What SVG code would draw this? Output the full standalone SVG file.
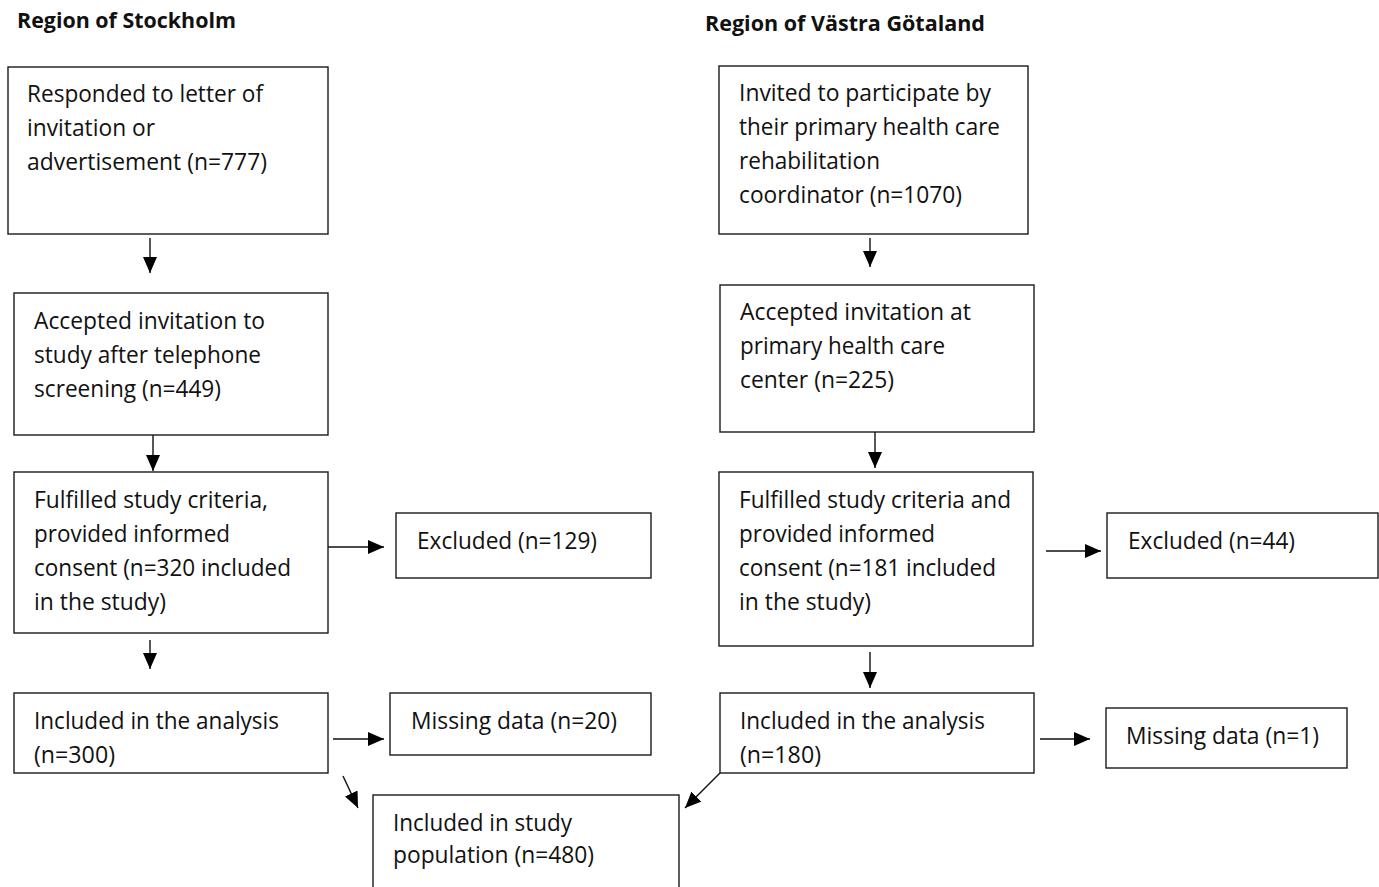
<svg xmlns="http://www.w3.org/2000/svg" width="1379" height="887" viewBox="0 0 1379 887">
<style>
.box{fill:#fff;stroke:#1a1a1a;stroke-width:1.4}
.t{font-family:"Open Sans","Liberation Sans",sans-serif;font-size:23px;fill:#111}
.h{font-family:"Open Sans","Liberation Sans",sans-serif;font-size:21px;font-weight:bold;fill:#111}
.c{stroke:#111;stroke-width:1.4;fill:none;marker-end:url(#ah)}
</style>
<defs>
<marker id="ah" markerUnits="userSpaceOnUse" viewBox="0 0 16 14" refX="16" refY="7" markerWidth="16" markerHeight="14" orient="auto">
<path d="M0,0 L16,7 L0,14 Z" fill="#000"/>
</marker>
</defs>
<rect width="1379" height="887" fill="#fff"/>
<text class="h" x="17" y="28" textLength="219" lengthAdjust="spacingAndGlyphs">Region of Stockholm</text>
<text class="h" x="705" y="31" textLength="280" lengthAdjust="spacingAndGlyphs">Region of Västra Götaland</text>

<g id="connectors">
<line class="c" x1="150" y1="238" x2="150" y2="273"/>
<line class="c" x1="153" y1="435" x2="153" y2="471"/>
<line class="c" x1="328" y1="547" x2="384" y2="547"/>
<line class="c" x1="150" y1="640" x2="150" y2="669"/>
<line class="c" x1="333" y1="739" x2="384" y2="739"/>
<line class="c" x1="343" y1="776" x2="358" y2="808"/>
<line class="c" x1="720" y1="773" x2="685" y2="808"/>
<line class="c" x1="870" y1="238" x2="870" y2="267"/>
<line class="c" x1="875" y1="432" x2="875" y2="468"/>
<line class="c" x1="1046" y1="551" x2="1101" y2="551"/>
<line class="c" x1="870" y1="652" x2="870" y2="688"/>
<line class="c" x1="1040" y1="739" x2="1090" y2="739"/>
</g>

<g id="s1">
<rect class="box" x="8" y="67" width="320" height="167"/>
<text class="t" x="27" y="102" textLength="236" lengthAdjust="spacingAndGlyphs">Responded to letter of</text>
<text class="t" x="27" y="136" textLength="128" lengthAdjust="spacingAndGlyphs">invitation or</text>
<text class="t" x="27" y="170" textLength="240" lengthAdjust="spacingAndGlyphs">advertisement (n=777)</text>
</g>
<g id="s2">
<rect class="box" x="14" y="293" width="314" height="142"/>
<text class="t" x="34" y="329" textLength="231" lengthAdjust="spacingAndGlyphs">Accepted invitation to</text>
<text class="t" x="34" y="363" textLength="227" lengthAdjust="spacingAndGlyphs">study after telephone</text>
<text class="t" x="34" y="397" textLength="187" lengthAdjust="spacingAndGlyphs">screening (n=449)</text>
</g>
<g id="s3">
<rect class="box" x="14" y="472" width="314" height="161"/>
<text class="t" x="34" y="508" textLength="234" lengthAdjust="spacingAndGlyphs">Fulfilled study criteria,</text>
<text class="t" x="34" y="542" textLength="196" lengthAdjust="spacingAndGlyphs">provided informed</text>
<text class="t" x="34" y="576" textLength="257" lengthAdjust="spacingAndGlyphs">consent (n=320 included</text>
<text class="t" x="34" y="610" textLength="132" lengthAdjust="spacingAndGlyphs">in the study)</text>
</g>
<g id="s3x">
<rect class="box" x="396" y="513" width="255" height="65"/>
<text class="t" x="417" y="549" textLength="180" lengthAdjust="spacingAndGlyphs">Excluded (n=129)</text>
</g>
<g id="s4">
<rect class="box" x="14" y="693" width="314" height="80"/>
<text class="t" x="34" y="729" textLength="245" lengthAdjust="spacingAndGlyphs">Included in the analysis</text>
<text class="t" x="34" y="763" textLength="81" lengthAdjust="spacingAndGlyphs">(n=300)</text>
</g>
<g id="s4m">
<rect class="box" x="390" y="693" width="261" height="62"/>
<text class="t" x="411" y="729" textLength="206" lengthAdjust="spacingAndGlyphs">Missing data (n=20)</text>
</g>

<g id="final">
<rect class="box" x="373" y="795" width="306" height="110"/>
<text class="t" x="393" y="831" textLength="179" lengthAdjust="spacingAndGlyphs">Included in study</text>
<text class="t" x="393" y="863" textLength="201" lengthAdjust="spacingAndGlyphs">population (n=480)</text>
</g>

<g id="v1">
<rect class="box" x="719" y="66" width="309" height="168"/>
<text class="t" x="739" y="101" textLength="252" lengthAdjust="spacingAndGlyphs">Invited to participate by</text>
<text class="t" x="739" y="135" textLength="261" lengthAdjust="spacingAndGlyphs">their primary health care</text>
<text class="t" x="739" y="169" textLength="141" lengthAdjust="spacingAndGlyphs">rehabilitation</text>
<text class="t" x="739" y="203" textLength="223" lengthAdjust="spacingAndGlyphs">coordinator (n=1070)</text>
</g>
<g id="v2">
<rect class="box" x="720" y="285" width="314" height="147"/>
<text class="t" x="740" y="320" textLength="231" lengthAdjust="spacingAndGlyphs">Accepted invitation at</text>
<text class="t" x="740" y="354" textLength="205" lengthAdjust="spacingAndGlyphs">primary health care</text>
<text class="t" x="740" y="388" textLength="154" lengthAdjust="spacingAndGlyphs">center (n=225)</text>
</g>
<g id="v3">
<rect class="box" x="719" y="472" width="314" height="174"/>
<text class="t" x="739" y="508" textLength="272" lengthAdjust="spacingAndGlyphs">Fulfilled study criteria and</text>
<text class="t" x="739" y="542" textLength="196" lengthAdjust="spacingAndGlyphs">provided informed</text>
<text class="t" x="739" y="576" textLength="257" lengthAdjust="spacingAndGlyphs">consent (n=181 included</text>
<text class="t" x="739" y="610" textLength="132" lengthAdjust="spacingAndGlyphs">in the study)</text>
</g>
<g id="v3x">
<rect class="box" x="1107" y="513" width="271" height="65"/>
<text class="t" x="1128" y="549" textLength="167" lengthAdjust="spacingAndGlyphs">Excluded (n=44)</text>
</g>
<g id="v4">
<rect class="box" x="720" y="693" width="314" height="80"/>
<text class="t" x="740" y="729" textLength="245" lengthAdjust="spacingAndGlyphs">Included in the analysis</text>
<text class="t" x="740" y="763" textLength="81" lengthAdjust="spacingAndGlyphs">(n=180)</text>
</g>
<g id="v4m">
<rect class="box" x="1106" y="708" width="241" height="60"/>
<text class="t" x="1126" y="744" textLength="193" lengthAdjust="spacingAndGlyphs">Missing data (n=1)</text>
</g>
</svg>
